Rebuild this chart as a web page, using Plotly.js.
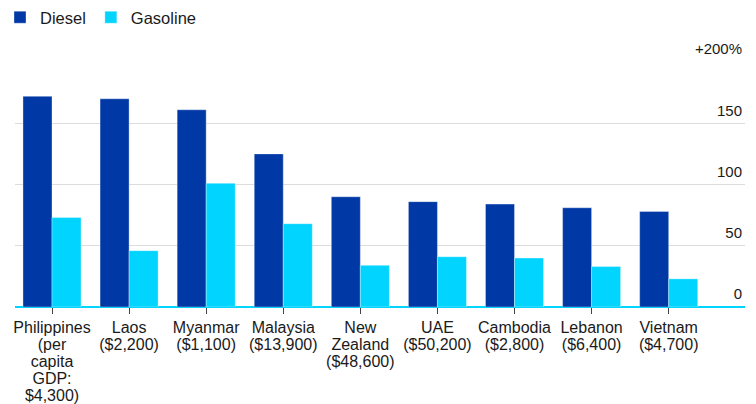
<!DOCTYPE html>
<html>
<head>
<meta charset="utf-8">
<script src="https://cdn.plot.ly/plotly-3.0.1.min.js"></script>
<style>html,body{margin:0;padding:0;background:#fff;}#chart{width:756px;height:404px;}</style>
</head>
<body>
<div id="chart"></div>
<script>
// Categories (country) and their label lines
const countries = ["Philippines", "Laos", "Myanmar", "Malaysia", "New Zealand", "UAE", "Cambodia", "Lebanon", "Vietnam"];
const countryLabelLines = [
  ["Philippines", "(per", "capita", "GDP:", "$4,300)"],
  ["Laos", "($2,200)"],
  ["Myanmar", "($1,100)"],
  ["Malaysia", "($13,900)"],
  ["New", "Zealand", "($48,600)"],
  ["UAE", "($50,200)"],
  ["Cambodia", "($2,800)"],
  ["Lebanon", "($6,400)"],
  ["Vietnam", "($4,700)"]
];
// Series values (% price increase)
const diesel = [172, 170, 161, 125, 90, 86, 84, 81, 78];
const gasoline = [73, 46, 101, 68, 34, 41, 40, 33, 23];
// Y tick labels
const yTickVals = [0, 50, 100, 150, 200];
const yTickText = ["0", "50", "100", "150", "+200%"];

const FONT = "Liberation Sans, Arial, Helvetica, sans-serif";
const ticktext = countryLabelLines.map(lines =>
  lines.map(l => '<span style="font-size:16px">' + l + '</span>').join('<br>'));

const traces = [
  {type: 'bar', name: 'Diesel', x: countries, y: diesel,
   marker: {color: '#0039a6', line: {color: 'rgba(255,255,255,0.35)', width: 1}},
   hoverinfo: 'skip'},
  {type: 'bar', name: 'Gasoline', x: countries, y: gasoline,
   marker: {color: '#00d4ff', line: {color: 'rgba(255,255,255,0.35)', width: 1}},
   hoverinfo: 'skip'}
];

const layout = {
  width: 756, height: 404,
  margin: {l: 15, r: 11, t: 62, b: 97, pad: 0},
  paper_bgcolor: '#fff', plot_bgcolor: '#fff',
  font: {family: FONT, color: '#1a1a1a', size: 15},
  barmode: 'group', bargap: 0.247, bargroupgap: 0,
  showlegend: true,
  legend: {orientation: 'h', x: 0, y: 1, xref: 'container', yref: 'container',
           xanchor: 'left', yanchor: 'top', font: {size: 16.5, family: FONT, color: '#1a1a1a'},
           bgcolor: 'rgba(0,0,0,0)', traceorder: 'normal'},
  xaxis: {type: 'category', range: [-0.48, 8.99], fixedrange: true,
          tickmode: 'array', tickvals: countries, ticktext: ticktext,
          ticks: 'outside', ticklen: 6, tickcolor: '#444', tickwidth: 1,
          ticklabelstandoff: 3,
          tickfont: {family: FONT, size: 13.05, color: '#1a1a1a'},
          showgrid: false, showline: false, zeroline: false},
  yaxis: {range: [0, 200], fixedrange: true, side: 'right',
          tickmode: 'array', tickvals: yTickVals, ticktext: yTickText,
          ticklabelposition: 'inside', ticklabelshift: -13, ticklabeloverflow: 'allow', ticks: '',
          tickfont: {family: FONT, size: 15, color: '#1a1a1a'},
          showgrid: true, gridcolor: '#dcdcdc', gridwidth: 1.2,
          zeroline: true, zerolinecolor: '#00d4ff', zerolinewidth: 1.5,
          showline: false}
};

Plotly.newPlot('chart', traces, layout, {displayModeBar: false, staticPlot: true});
</script>
</body>
</html>
